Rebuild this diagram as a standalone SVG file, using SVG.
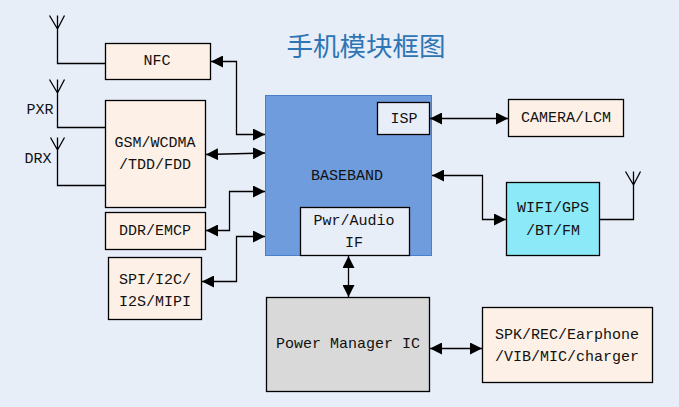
<svg xmlns="http://www.w3.org/2000/svg" width="679" height="407" viewBox="0 0 679 407">
<style>
.box{stroke:#000;stroke-width:1.3}
.peach{fill:#FDF0E6}
.pale{fill:#E8EEF8}
.cyan{fill:#8CE9F8}
.gray{fill:#D9D9D9}
.t{font-family:"Liberation Mono",monospace;font-size:15px;fill:#111;text-anchor:middle}
.title{font-family:"Noto Sans CJK SC",sans-serif;font-size:26.5px;fill:#2E75B6;text-anchor:middle}
.w{fill:none;stroke:#000;stroke-width:1.3}
.a{fill:none;stroke:#000;stroke-width:1.3;marker-start:url(#h);marker-end:url(#h)}
</style>
<defs>
<marker id="h" viewBox="0 0 12 12" refX="12" refY="6" markerWidth="12" markerHeight="12" markerUnits="userSpaceOnUse" orient="auto-start-reverse"><path d="M0 0L12 6L0 12Z" fill="#000"/></marker>
</defs>
<rect width="679" height="407" fill="#E7EEF8"/>
<text class="title" x="366" y="56">手机模块框图</text>
<g id="baseband"><rect x="265.500" y="95.500" width="166" height="160" fill="#6F9CDC" stroke="#4A7FCB" stroke-width="1"/><text class="t" x="347" y="180">BASEBAND</text></g>
<g id="isp"><rect class="box pale" x="377.500" y="102.500" width="52" height="32"/><text class="t" x="404" y="123">ISP</text></g>
<g id="pwr"><rect class="box pale" x="300.500" y="207.500" width="109" height="48"/><text class="t" x="354" y="225">Pwr/Audio</text><text class="t" x="354" y="247">IF</text></g>
<g id="nfc"><rect class="box peach" x="105.500" y="43.500" width="105" height="36"/><text class="t" x="157" y="65">NFC</text></g>
<g id="gsm"><rect class="box peach" x="105.500" y="100.500" width="100" height="107"/><text class="t" x="155" y="147">GSM/WCDMA</text><text class="t" x="155" y="169">/TDD/FDD</text></g>
<g id="ddr"><rect class="box peach" x="105.500" y="212.500" width="100" height="37"/><text class="t" x="155" y="235">DDR/EMCP</text></g>
<g id="spi"><rect class="box peach" x="108.500" y="257.500" width="93" height="62"/><text class="t" x="155" y="284">SPI/I2C/</text><text class="t" x="155" y="306">I2S/MIPI</text></g>
<g id="camera"><rect class="box peach" x="508.500" y="99.500" width="115" height="37"/><text class="t" x="566" y="122">CAMERA/LCM</text></g>
<g id="wifi"><rect class="box cyan" x="506.500" y="182.500" width="93" height="73"/><text class="t" x="553" y="212">WIFI/GPS</text><text class="t" x="553" y="235">/BT/FM</text></g>
<g id="pmic"><rect class="box gray" x="266.500" y="297.500" width="163" height="94"/><text class="t" x="348" y="348">Power Manager IC</text></g>
<g id="spk"><rect class="box peach" x="482.500" y="307.500" width="170" height="75"/><text class="t" x="567" y="339">SPK/REC/Earphone</text><text class="t" x="567" y="361">/VIB/MIC/charger</text></g>
<g id="labels"><text class="t" x="40" y="114">PXR</text><text class="t" x="38" y="163">DRX</text></g>
<g id="connectors">
<path class="w" d="M57.500 29V63.500H105M49.500 15.500L57.500 29L64.500 15.500M57.500 15.500V29"/>
<path class="w" d="M57.500 93V127.500H105M49.500 79.500L57.500 93L64.500 79.500M57.500 79.500V93"/>
<path class="w" d="M57.500 150V185.500H105M50.500 137.500L57.500 150L64.500 137.500M57.500 137.500V150"/>
<path class="w" d="M600 219.500H633.500V184M625.500 171.500L633.500 185L640.500 171.500M633.500 171.500V185"/>
<path class="a" d="M211 61.500H236.500V134.500H265"/>
<path class="a" d="M206 154.500L265 153"/>
<path class="a" d="M206 230.500H229.500V191.500H265"/>
<path class="a" d="M202 281.500H236.500V236.500H265"/>
<path class="a" d="M430 118.500H508"/>
<path class="a" d="M432 175.500H482.500V219.500H506"/>
<path class="a" d="M348.500 256V297"/>
<path class="a" d="M430 348.500H482"/>
</g>
</svg>
